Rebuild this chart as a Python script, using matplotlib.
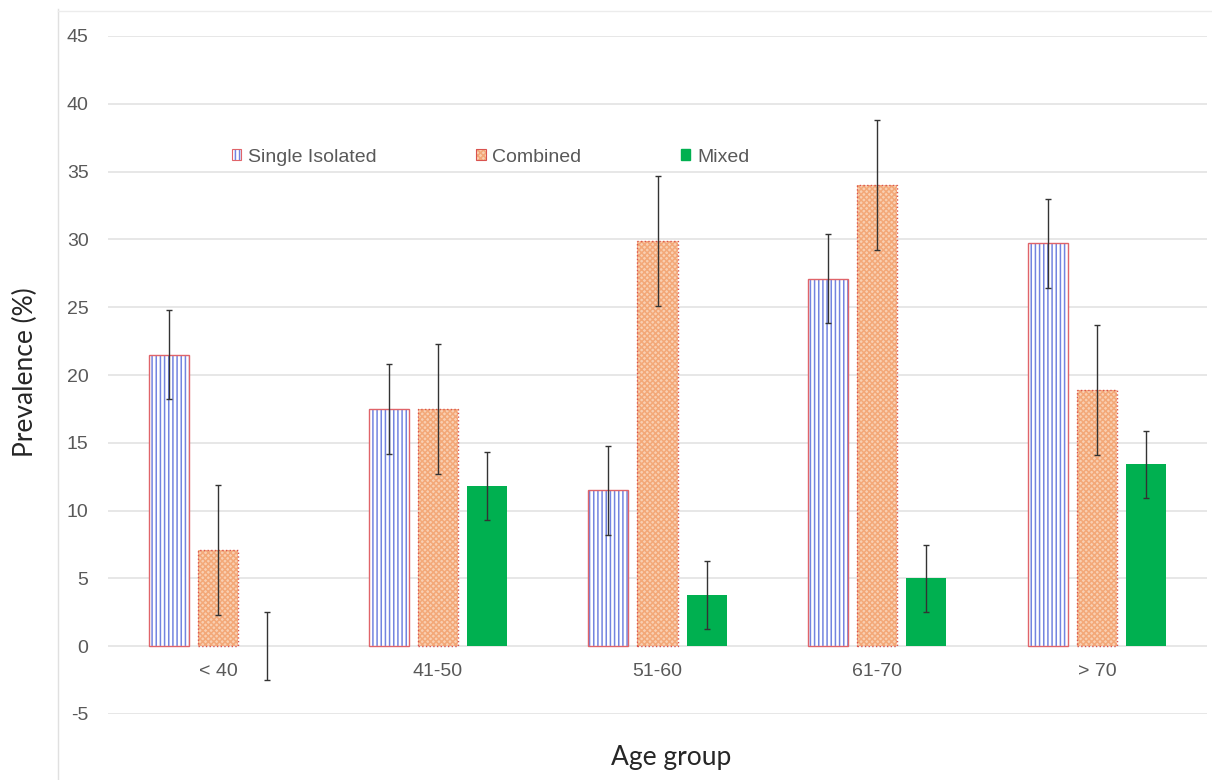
import matplotlib.pyplot as plt
import numpy as np
from matplotlib.patches import Patch
from matplotlib.lines import Line2D

plt.rcParams['font.family'] = ['Liberation Sans', 'DejaVu Sans']
plt.rcParams['hatch.linewidth'] = 1.1
plt.rcParams['axes.unicode_minus'] = False

# Prevalence by age group for each pattern
age_groups = ['< 40', '41-50', '51-60', '61-70', '> 70']
single = [21.5, 17.5, 11.5, 27.1, 29.7]
combined = [7.1, 17.5, 29.9, 34.0, 18.9]
mixed = [0.0, 11.8, 3.8, 5.0, 13.4]
single_err = [3.3, 3.3, 3.3, 3.3, 3.3]
combined_err = [4.8, 4.8, 4.8, 4.8, 4.8]
mixed_err = [2.5, 2.5, 2.5, 2.5, 2.5]
y_ticks = [-5, 0, 5, 10, 15, 20, 25, 30, 35, 40, 45]

W, H = 1212, 780
fig = plt.figure(figsize=(W / 100, H / 100), dpi=100)
ax = fig.add_axes([108 / W, (H - 714) / H, (1207 - 108) / W, (714 - 36) / H])

x = np.arange(len(age_groups))
bw = 0.182
off = 0.223

blue = '#7384e0'
red_edge = '#e0646a'
orange_hatch = '#f3a878'
orange_face = '#f9cfb2'
green = '#00b050'
err_kw = dict(ecolor='#333333', elinewidth=1.0, capsize=2.2, capthick=1.0)

# Single isolated: vertical blue stripes with a red outline
ax.bar(x - off, single, bw, color='white', hatch='||||', edgecolor=blue,
       linewidth=0, zorder=2)
ax.bar(x - off, single, bw, fill=False, edgecolor=red_edge, linewidth=1.0,
       zorder=3)
ax.errorbar(x - off, single, yerr=single_err, fmt='none', zorder=4, **err_kw)

# Combined: fine orange mesh with a dotted red outline
ax.bar(x, combined, bw, color=orange_face, hatch='xxxxxx',
       edgecolor=orange_hatch, linewidth=0, zorder=2)
ax.bar(x, combined, bw, fill=False, edgecolor='#d9534f', linewidth=1.0,
       linestyle=':', zorder=3)
ax.errorbar(x, combined, yerr=combined_err, fmt='none', zorder=4, **err_kw)

# Mixed: solid green
ax.bar(x + off, mixed, bw, color=green, linewidth=0, zorder=2)
ax.errorbar(x + off, mixed, yerr=mixed_err, fmt='none', zorder=4, **err_kw)

ax.set_xlim(-0.5, 4.5)
ax.set_ylim(-5, 45)
ax.set_yticks(y_ticks)
ax.set_xticks(x)
ax.set_xticklabels(age_groups)
ax.grid(axis='y', color='#e3e3e3', linewidth=1.2, zorder=0)
ax.set_axisbelow(True)
for side in ['top', 'right', 'left']:
    ax.spines[side].set_visible(False)
ax.spines['bottom'].set_position(('data', 0))
ax.spines['bottom'].set_color('none')
ax.tick_params(axis='both', length=0, labelsize=14, colors='#595959')
ax.tick_params(axis='y', pad=14)
ax.tick_params(axis='x', pad=12)

# Legend inside the plot area
handles = [
    (Patch(facecolor='white', hatch='||||', edgecolor=blue, linewidth=0),
     Patch(fill=False, edgecolor=red_edge, linewidth=0.8)),
    (Patch(facecolor=orange_face, hatch='xxxxxx', edgecolor=orange_hatch, linewidth=0),
     Patch(fill=False, edgecolor='#d9534f', linewidth=0.8)),
    Patch(facecolor=green, edgecolor=green),
]
ax.legend(handles, ['Single Isolated', 'Combined', 'Mixed'], ncol=3,
          loc='center left', bbox_to_anchor=((218 - 108) / (1207 - 108), (714 - 157) / 678),
          frameon=False, fontsize=14, labelcolor='#595959',
          handlelength=0.5, handleheight=0.5, handletextpad=0.35,
          columnspacing=5.1, borderpad=0.2)

fig.text(25 / W, (H - 372) / H, 'Prevalence (%)', rotation=90, ha='center',
         va='center', fontsize=19, family='Lato', color='#262626')
fig.text(671 / W, (H - 757) / H, 'Age group', ha='center', va='center',
         fontsize=19, family='Lato', color='#262626')

# Chart area border
fig.add_artist(Line2D([58 / W, 58 / W], [0, (H - 9) / H], color='#e0e0e0',
                      linewidth=1.0, transform=fig.transFigure))
fig.add_artist(Line2D([58 / W, 1.0], [(H - 11) / H, (H - 11) / H],
                      color='#ececec', linewidth=1.0, transform=fig.transFigure))

fig.savefig('out.png', dpi=100)
